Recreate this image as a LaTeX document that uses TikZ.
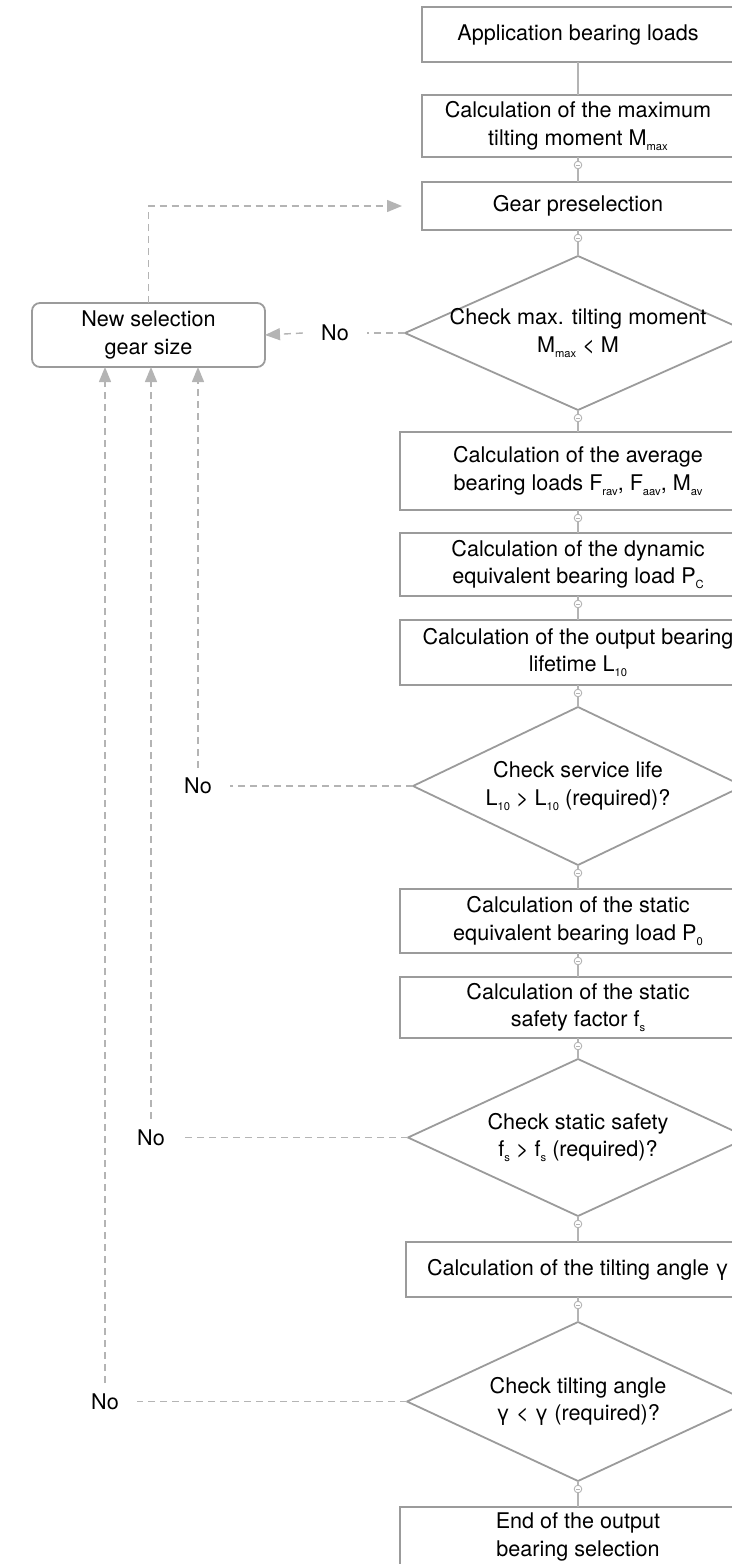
\documentclass[tikz,border=0pt]{standalone}
\usepackage{fontspec}
\setmainfont{TeX Gyre Heros}
\usetikzlibrary{shapes.geometric, arrows.meta, decorations.markings}
\definecolor{framegray}{HTML}{9B9B9B}
\definecolor{linegray}{HTML}{B4B4B4}
\newcommand{\idx}[1]{\raisebox{-2.6pt}{\fontsize{5.6}{5.6}\selectfont #1}}
\tikzset{>={Triangle[length=7.5pt, width=6pt]}}
\tikzset{
    stepbox/.style={draw=framegray, line width=0.9pt, minimum width=178pt, align=center, inner sep=0pt, outer sep=0pt},
    check/.style={diamond, draw=framegray, line width=0.9pt, aspect=2.2, align=center, inner sep=-8pt, outer sep=0pt},
    flow/.style={draw=linegray, line width=0.7pt, postaction={decorate, decoration={markings,
        mark=at position 4pt with {\draw[linegray, line width=0.45pt, fill=white] (0, 0) circle (1.9pt);
            \draw[linegray, line width=0.45pt] (0, -0.9pt)--(0, 0.9pt);}}}},
    back/.style={draw=linegray, line width=0.7pt, dash pattern=on 3.5pt off 2.5pt},
    nolabel/.style={inner xsep=9pt, inner ysep=5pt},
}

\begin{document}
\begin{tikzpicture}[x=0.5pt, y=-0.5pt, font=\fontsize{10.8}{13.8}\selectfont]
    \clip (0, 0) rectangle (732, 1564);
    % main column
    \node[stepbox, minimum width=156pt, minimum height=27.5pt] (load) at (578, 34.5) {Application bearing loads};
    \node[stepbox, minimum width=156pt, minimum height=31pt] (mmax) at (578, 126) {Calculation of the maximum\\tilting moment M\idx{max}};
    \node[stepbox, minimum width=156pt, minimum height=24pt] (presel) at (578, 206) {Gear preselection};
    \node[check, minimum width=173pt, minimum height=77pt] (chkm) at (578, 333) {Check max. tilting moment\\M\idx{max} < M};
    \node[stepbox, minimum height=39pt] (avg) at (578, 471) {Calculation of the average\\bearing loads F\idx{rav}, F\idx{aav}, M\idx{av}};
    \node[stepbox, minimum height=31.5pt] (dyn) at (578, 564.5) {Calculation of the dynamic\\equivalent bearing load P\idx{C}};
    \node[stepbox, minimum height=32.5pt] (life) at (578, 652.5) {Calculation of the output bearing\\lifetime L\idx{10}};
    \node[check, minimum width=165pt, minimum height=79pt] (chkl) at (578, 786) {Check service life\\L\idx{10} > L\idx{10} (required)?};
    \node[stepbox, minimum height=32pt] (stat) at (578, 921) {Calculation of the static\\equivalent bearing load P\idx{0}};
    \node[stepbox, minimum height=30.5pt] (safe) at (578, 1007.5) {Calculation of the static\\safety factor f\idx{s}};
    \node[check, minimum width=170pt, minimum height=78.5pt] (chks) at (578, 1137.5) {Check static safety\\f\idx{s} > f\idx{s} (required)?};
    \node[stepbox, minimum width=172pt, minimum height=27.5pt] (tilt) at (578, 1269.5) {Calculation of the tilting angle γ};
    \node[check, minimum width=171pt, minimum height=79.5pt] (chkt) at (578, 1401.5) {Check tilting angle\\γ < γ (required)?};
    \node[stepbox, minimum height=30pt] (done) at (578, 1537) {End of the output\\bearing selection};

    % side box and the "No" branches
    \node[stepbox, rounded corners=4pt, minimum width=116.5pt, minimum height=32pt] (newsel) at (148.5, 335) {New selection\\gear size};
    \node[nolabel] (no1) at (335, 333) {No};
    \node[nolabel] (no2) at (198, 786) {No};
    \node[nolabel] (no3) at (151, 1137.5) {No};
    \node[nolabel] (no4) at (105, 1401.5) {No};

    \draw[draw=linegray, line width=0.7pt] (load.south)--(mmax.north);
    \draw[flow] (mmax.south)--(presel.north);
    \draw[flow] (presel.south)--(chkm.north);
    \draw[flow] (chkm.south)--(avg.north);
    \draw[flow] (avg.south)--(dyn.north);
    \draw[flow] (dyn.south)--(life.north);
    \draw[flow] (life.south)--(chkl.north);
    \draw[flow] (chkl.south)--(stat.north);
    \draw[flow] (stat.south)--(safe.north);
    \draw[flow] (safe.south)--(chks.north);
    \draw[flow] (chks.south)--(tilt.north);
    \draw[flow] (tilt.south)--(chkt.north);
    \draw[flow] (chkt.south)--(done.north);

    \draw[back, ->, shorten >=10pt] (newsel.north)|-(presel.west);
    \draw[back] (chkm.west)--(no1.east);
    \draw[back, ->] (no1.west)--(newsel.east);
    \draw[back] (chkl.west)--(no2.east);
    \draw[back, ->] (no2.north)--(no2.north |- newsel.south);
    \draw[back] (chks.west)--(no3.east);
    \draw[back, ->] (no3.north)--(no3.north |- newsel.south);
    \draw[back] (chkt.west)--(no4.east);
    \draw[back, ->] (no4.north)--(no4.north |- newsel.south);
\end{tikzpicture}
\end{document}
